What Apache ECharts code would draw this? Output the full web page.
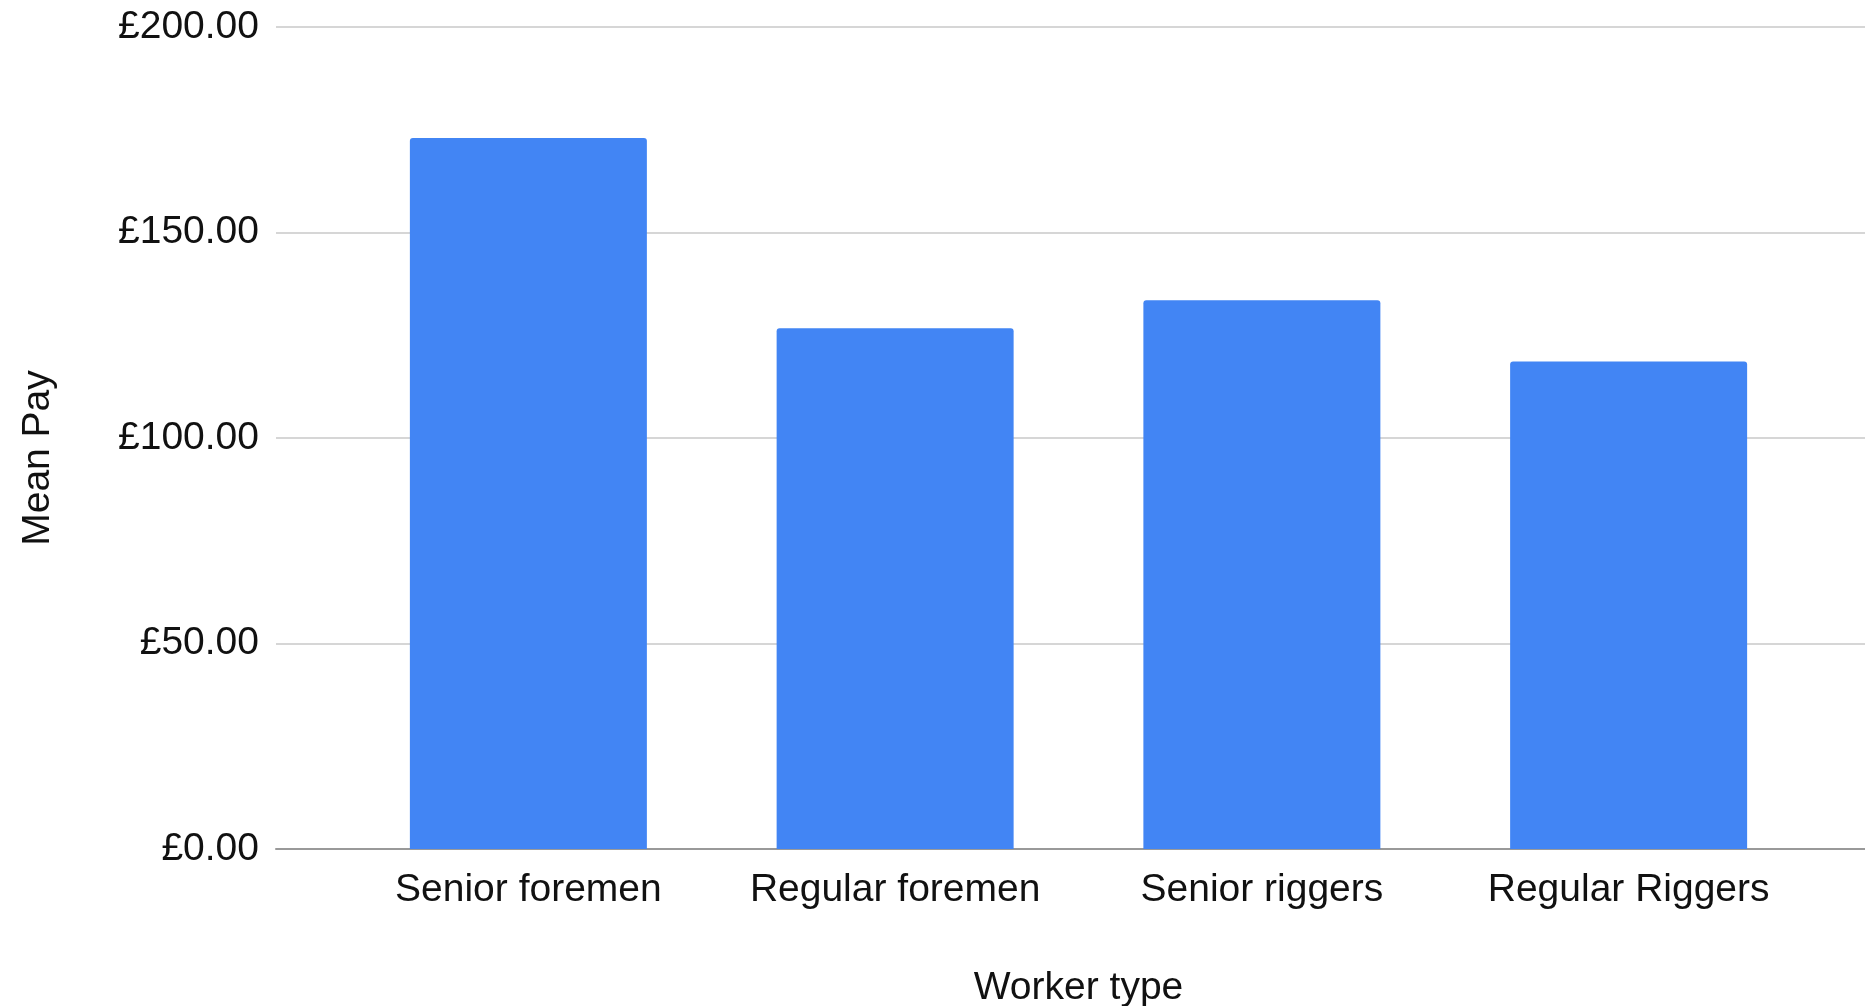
<!DOCTYPE html>
<html>
<head>
<meta charset="utf-8">
<style>
  html, body { margin: 0; padding: 0; background: #ffffff; }
  #chart { width: 1865px; height: 1006px; }
</style>
<script src="https://cdn.jsdelivr.net/npm/echarts@6/dist/echarts.min.js"></script>
</head>
<body>
<div id="chart"></div>
<script>
// Mean pay per worker type
const categories = ['Senior foremen', 'Regular foremen', 'Senior riggers', 'Regular Riggers'];
const meanPay = [173.0, 126.7, 133.5, 118.6];
const yTicks = { min: 0, max: 200, interval: 50 };

const FONT = '"Liberation Sans", Arial, sans-serif';
const TEXT = '#111111';

const chart = echarts.init(document.getElementById('chart'), null, { renderer: 'canvas' });

const fmtPounds = v => '£' + Number(v).toFixed(2);

chart.setOption({
  animation: false,
  backgroundColor: '#ffffff',
  grid: [
    // wide grid: gridlines, value labels and baseline
    { left: 276, right: 0, top: 27, height: 822, containLabel: false, outerBoundsMode: 'none' },
    // inner grid: the category bands holding the bars
    { left: 345, width: 1467, top: 27, height: 822, containLabel: false, outerBoundsMode: 'none' }
  ],
  xAxis: [
    {
      gridIndex: 0, type: 'value', min: 0, max: 1,
      axisLine: { show: true, onZero: false, lineStyle: { color: '#999999', width: 2 } },
      axisTick: { show: false }, axisLabel: { show: false }, splitLine: { show: false }
    },
    {
      gridIndex: 1, type: 'category', data: categories,
      axisLine: { show: false }, axisTick: { show: false },
      axisLabel: { color: TEXT, fontFamily: FONT, fontSize: 39, margin: 22, interval: 0 },
      name: 'Worker type', nameLocation: 'middle', nameGap: 120,
      nameTextStyle: { color: TEXT, fontFamily: FONT, fontSize: 39 }
    }
  ],
  yAxis: [
    {
      gridIndex: 0, type: 'value', min: yTicks.min, max: yTicks.max, interval: yTicks.interval,
      axisLine: { show: false }, axisTick: { show: false },
      axisLabel: { color: TEXT, fontFamily: FONT, fontSize: 39, margin: 17, formatter: fmtPounds },
      splitLine: { show: true, lineStyle: { color: '#d6d6d6', width: 2 } }
    },
    {
      gridIndex: 1, type: 'value', min: yTicks.min, max: yTicks.max, interval: yTicks.interval,
      axisLine: { show: false }, axisTick: { show: false },
      axisLabel: { show: false }, splitLine: { show: false }
    }
  ],
  graphic: [
    {
      type: 'text',
      x: 38, y: 458, rotation: Math.PI / 2,
      style: {
        text: 'Mean Pay', fill: TEXT, font: '39px ' + FONT,
        align: 'center', verticalAlign: 'middle'
      }
    }
  ],
  series: [
    {
      type: 'bar',
      xAxisIndex: 1, yAxisIndex: 1,
      data: meanPay,
      barWidth: 237,
      itemStyle: { color: '#4285f4', borderRadius: [3, 3, 0, 0] },
      z: 1
    }
  ]
});
</script>
</body>
</html>
